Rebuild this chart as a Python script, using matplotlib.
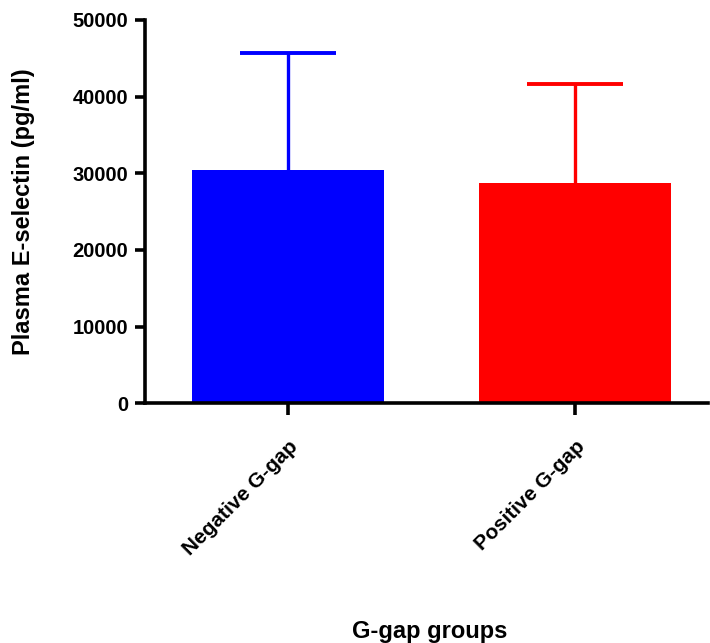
import matplotlib
matplotlib.use("Agg")
import matplotlib.pyplot as plt

# data
groups = ["Negative G-gap", "Positive G-gap"]
means = [30400, 28700]
sd_upper = [15300, 12900]
colors = ["#0000FF", "#FF0000"]

plt.rcParams["font.family"] = ["Liberation Sans", "DejaVu Sans"]
plt.rcParams["font.weight"] = "bold"

fig = plt.figure(figsize=(7.10, 6.43), dpi=100)
ax = fig.add_axes([0.204, 0.373, 0.793, 0.596])

x = list(range(len(groups)))
for i in x:
    _, caps, _ = ax.errorbar(x[i], means[i], yerr=[[0], [sd_upper[i]]], fmt="none",
                             ecolor=colors[i], elinewidth=2.4, capsize=34.5,
                             capthick=2.8, zorder=1)
    # only the upper cap is shown (SD drawn upwards only)
    caps[0].set_visible(False)
ax.bar(x, means, width=0.67, color=colors, zorder=2)

ax.set_xlim(-0.5, 1.463)
ax.set_ylim(0, 50000)
ax.set_yticks(range(0, 50001, 10000))
ax.set_xticks(x)
ax.set_xticklabels(groups, rotation=45, ha="right", rotation_mode="anchor",
                   fontsize=15, fontweight="bold")

for side in ["top", "right"]:
    ax.spines[side].set_visible(False)
for side in ["left", "bottom"]:
    ax.spines[side].set_linewidth(2.6)
ax.tick_params(axis="y", length=7, width=2.6, labelsize=14.5, pad=5)
ax.tick_params(axis="x", length=8.5, width=2.6, pad=16)
for lab in ax.get_yticklabels():
    lab.set_fontweight("bold")

ax.set_ylabel("Plasma E-selectin (pg/ml)", fontsize=17, fontweight="bold")
ax.yaxis.set_label_coords(-0.195, 0.5)
ax.set_xlabel("G-gap groups", fontsize=17, fontweight="bold")
ax.xaxis.set_label_coords(0.506, -0.565)

fig.savefig("out.png", dpi=100)
